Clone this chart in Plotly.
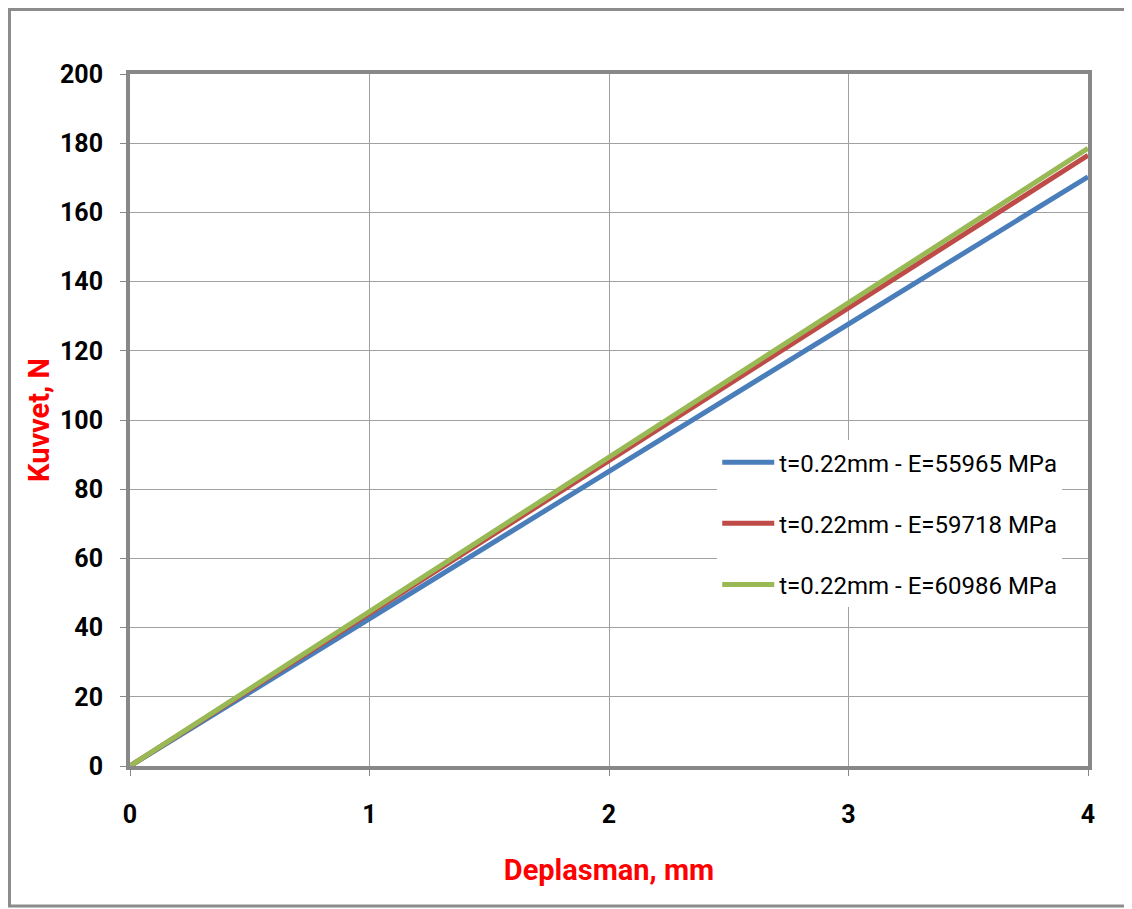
import plotly.graph_objects as go

# Data
deplasman = [0, 0.5, 1, 1.5, 2, 2.5, 3, 3.5, 4]
kuvvet_55965 = [0, 21.3, 42.6, 63.9, 85.2, 106.4, 127.7, 149.0, 170.3]
kuvvet_59718 = [0, 22.1, 44.1, 66.2, 88.3, 110.3, 132.4, 154.5, 176.5]
kuvvet_60986 = [0, 22.3, 44.6, 66.9, 89.3, 111.6, 133.9, 156.2, 178.5]

series_names = [
    "t=0.22mm - E=55965 MPa",
    "t=0.22mm - E=59718 MPa",
    "t=0.22mm - E=60986 MPa",
]
series_values = [kuvvet_55965, kuvvet_59718, kuvvet_60986]
series_colors = ["#4a7ebb", "#be4b48", "#98b954"]

x_ticks = [0, 1, 2, 3, 4]
y_ticks = [0, 20, 40, 60, 80, 100, 120, 140, 160, 180, 200]

font_family = "Roboto, Arial, sans-serif"

fig = go.Figure()

for i, (name, vals, col) in enumerate(zip(series_names, series_values, series_colors)):
    fig.add_trace(go.Scatter(
        x=deplasman,
        y=vals,
        mode='lines',
        name=name,
        legendgroup=f"g{i}",
        line=dict(color=col, width=5),
    ))

axis_common = dict(
    showgrid=True,
    gridcolor='#a0a0a0',
    gridwidth=1,
    showline=True,
    linecolor='#888888',
    linewidth=4,
    mirror=True,
    ticks='outside',
    ticklen=6,
    tickcolor='#888888',
    zeroline=False,
    tickfont=dict(family=font_family, size=25, color='black', weight='bold'),
)

fig.update_xaxes(
    range=[0, 4],
    tickvals=x_ticks,
    ticklabelstandoff=17,
    title=dict(text='Deplasman, mm', standoff=33,
               font=dict(family=font_family, size=29, color='#ff0000', weight='bold')),
    **axis_common,
)
fig.update_yaxes(
    range=[0, 200],
    tickvals=y_ticks,
    ticklabelstandoff=12,
    title=dict(text='Kuvvet, N', standoff=3,
               font=dict(family=font_family, size=29, color='#ff0000', weight='bold')),
    **axis_common,
)

# page body has an 8px margin, so the figure is sized to fit inside it
fig.update_layout(
    width=1124,
    height=901,
    margin=dict(l=122, r=44, t=66, b=143),
    plot_bgcolor='white',
    paper_bgcolor='white',
    showlegend=True,
    legend=dict(
        x=0.613, y=0.471, xanchor='left', yanchor='top',
        bgcolor='white',
        font=dict(family=font_family, size=24, color='black'),
        tracegroupgap=27,
        itemwidth=52,
    ),
    shapes=[dict(
        type='rect', xref='paper', yref='paper',
        x0=-0.1258, x1=1.0407, y0=-0.2023, y1=1.0932,
        line=dict(color='#8c8c8c', width=3),
        layer='below',
    )],
)

fig.write_html("out.html")
